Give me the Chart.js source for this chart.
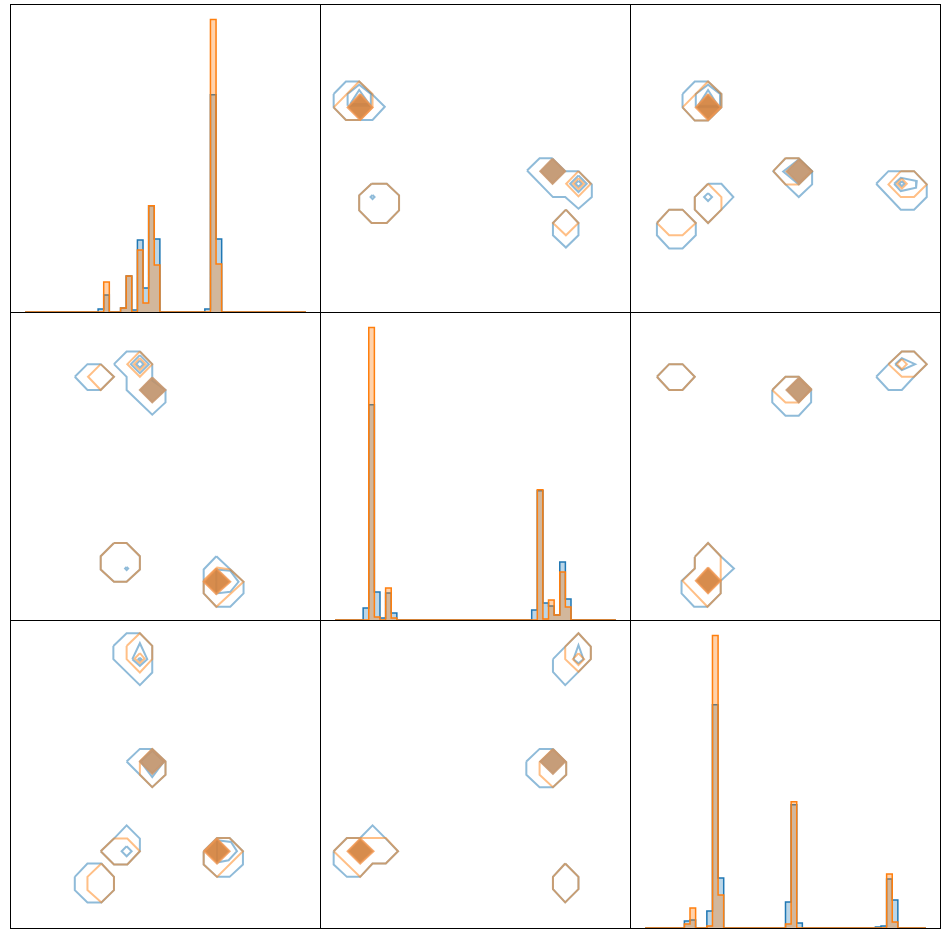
<!DOCTYPE html>
<html>
<head>
<meta charset="utf-8">
<script src="https://cdn.jsdelivr.net/npm/chart.js@4.4.0/dist/chart.umd.min.js"></script>
<style>
  body { margin: 0; background: #fff; }
  #grid { position: relative; width: 944px; height: 938px; }
  .cell { position: absolute; width: 311px; height: 309px; border: 1px solid #000; box-sizing: border-box; }
  .cell canvas { display: block; }
</style>
</head>
<body>
<div id="grid"></div>
<script>
// histogram bins: 50 equal bins over each variable's data range (axis units 0..31)
const binLo = 1.41, binW = 0.5636;

// diagonal histograms (density-ish counts per bin)
const h00Blue   = [0,0,0,0,0,0,0,0,0,0, 0,0,0,3,17,0,0,4,36,2, 72,24,106,73,0,0,0,0,0,0, 0,0,3,217,73,0,0,0,0,0, 0,0,0,0,0,0,0,0,0,0];
const h00Orange = [0,0,0,0,0,0,0,0,0,0, 0,0,0,0,30,0,0,4,36,0, 62,9,106,47,0,0,0,0,0,0, 0,0,0,292,48,0,0,0,0,0, 0,0,0,0,0,0,0,0,0,0];
const h11Blue   = [0,0,0,0,0,12,215,28,2,27, 7,0,0,0,0,0,0,0,0,0, 0,0,0,0,0,0,0,0,0,0, 0,0,0,0,0,10,129,17,14,5, 58,21,0,0,0,0,0,0,0,0];
const h11Orange = [0,0,0,0,0,0,292,3,0,32, 2,0,0,0,0,0,0,0,0,0, 0,0,0,0,0,0,0,0,0,0, 0,0,0,0,0,0,130,1,20,5, 48,13,0,0,0,0,0,0,0,0];
const h22Blue   = [0,0,0,0,0,0,0,7,8,0, 0,17,223,50,0,0,0,0,0,0, 0,0,0,0,0,26,123,5,0,0, 0,0,0,0,0,0,0,0,0,0, 0,1,2,49,28,0,0,0,0,0];
const h22Orange = [0,0,0,0,0,0,0,4,20,0, 0,2,292,33,0,0,0,0,0,0, 0,0,0,0,0,4,126,0,0,0, 0,0,0,0,0,0,0,0,0,0, 0,0,0,54,6,0,0,0,0,0];

// KDE contour polygons, [x, y] in axis units
const p01Blue = [
  [[1.27,21.87],[2.5,23.13],[3.83,23.13],[6.4,20.6],[5.17,19.27],[2.5,19.27],[1.27,20.53]],
  [[2.67,20.7],[2.67,21.87],[3.83,22.8],[5,21.87],[5,20.7]],
  [[2.93,20.87],[3.83,22.27],[4.83,20.87]],
  [[5.17,11.73],[5.37,11.53],[5.17,11.33],[4.97,11.53]],
  [[5.07,12.87],[6.6,12.87],[7.83,11.7],[7.83,10.2],[6.6,8.93],[5.07,8.93],[3.83,10.2],[3.83,11.7]],
  [[20.67,14.2],[21.93,15.43],[23.17,15.43],[24.5,14.13],[25.83,14.13],[27.17,12.8],[27.17,11.53],[25.83,10.37],[24.5,11.53],[23.27,11.53]],
  [[25.83,13.7],[26.66,12.87],[25.83,12.04],[25,12.87]],
  [[25.83,13.17],[26.13,12.87],[25.83,12.57],[25.53,12.87]],
  [[24.57,10.27],[25.83,8.93],[25.83,7.7],[24.57,6.47],[23.27,7.7],[23.27,8.93]]
];
const p01Orange = [
  [[1.27,20.53],[3.83,23.13],[5.17,21.87],[5.17,20.53],[3.93,19.27],[2.5,19.27]],
  [[5.07,12.87],[6.6,12.87],[7.83,11.7],[7.83,10.2],[6.6,8.93],[5.07,8.93],[3.83,10.2],[3.83,11.7]],
  [[25.83,14.13],[27.07,12.87],[25.83,11.6],[24.6,12.87]],
  [[25.83,13.42],[26.38,12.87],[25.83,12.32],[25.28,12.87]],
  [[24.57,10.27],[25.83,8.93],[24.57,7.7],[23.27,8.93]]
];
const p01CoreO = [[[3.93,21.87],[5.17,20.53],[3.93,19.27],[2.67,20.53]]];
const p01CoreT = [[[23.23,15.37],[24.5,14.13],[23.23,12.87],[22,14.13]]];

const p02Blue = [
  [[5.17,21.87],[6.4,23.13],[7.73,23.13],[9.07,21.87],[9.07,20.53],[7.73,19.2],[6.4,19.2],[5.17,20.53]],
  [[6.5,20.53],[6.5,21.87],[7.73,22.8],[8.93,21.87],[8.93,20.53]],
  [[6.73,20.7],[7.73,22.27],[8.73,20.7]],
  [[2.6,8.93],[3.83,10.27],[5.17,10.27],[6.5,8.93],[6.5,7.7],[5.17,6.37],[3.83,6.37],[2.6,7.7]],
  [[7.73,12.87],[9.07,12.87],[10.27,11.53],[9.07,10.27],[7.73,8.93],[6.4,10.27],[6.4,11.53]],
  [[7.73,11.93],[8.13,11.53],[7.73,11.13],[7.33,11.53]],
  [[15.5,15.43],[16.83,15.43],[18.17,14.13],[18.17,12.8],[16.83,11.53],[15.5,12.8],[14.27,14.13]],
  [[16.83,15.3],[18.17,14.1],[16.83,12.8],[15.27,14.1]],
  [[24.6,12.87],[25.83,14.13],[28.4,14.13],[29.67,12.8],[29.67,11.53],[28.4,10.27],[27.07,10.27]],
  [[26.4,12.87],[27.07,13.47],[28.67,13.13],[28.6,12.47],[27.07,12.13]],
  [[27.17,13.12],[27.42,12.87],[27.17,12.62],[26.92,12.87]]
];
const p02Orange = [
  [[5.17,20.53],[7.73,23.13],[9.07,21.87],[9.07,20.53],[7.73,19.2],[6.4,19.2]],
  [[2.6,8.93],[3.83,10.27],[5.17,10.27],[6.5,8.93],[5.17,7.7],[3.83,7.7]],
  [[7.73,12.87],[9.07,11.53],[9.07,10.27],[7.73,8.93],[6.4,10.27],[6.4,11.53]],
  [[14.27,14.13],[15.5,15.43],[16.83,15.43],[18.17,14.13],[16.83,12.8],[15.5,12.8]],
  [[27.07,14.13],[28.4,14.13],[29.67,12.8],[28.4,11.53],[27.07,11.53],[25.83,12.8]],
  [[27.17,13.37],[27.67,12.87],[27.17,12.37],[26.67,12.87]]
];
const p02CoreO = [[[7.73,21.87],[9,20.53],[7.73,19.27],[6.5,20.53]]];
const p02CoreT = [[[16.83,15.27],[18.07,14.1],[16.83,12.93],[15.6,14.1]]];

const p10Blue = [
  [[6.4,24.4],[7.67,25.67],[9,25.67],[10.33,24.4],[9,23.07],[7.67,23.07]],
  [[10.33,25.67],[11.6,26.93],[12.93,26.93],[14.17,25.67],[14.17,24],[15.5,23.07],[15.5,21.83],[14.17,20.6],[11.6,23.07],[11.6,24.4]],
  [[12.93,26.57],[13.83,25.67],[12.93,24.77],[12.03,25.67]],
  [[12.93,26.02],[13.28,25.67],[12.93,25.32],[12.58,25.67]],
  [[10.33,7.73],[11.6,7.73],[12.93,6.4],[12.93,5.07],[11.6,3.83],[10.33,3.83],[9,5.07],[9,6.4]],
  [[11.6,5.32],[11.75,5.17],[11.6,5.02],[11.45,5.17]],
  [[20.6,6.4],[23.33,3.83],[23.33,2.67],[22,1.33],[20.6,1.33],[19.33,2.67],[19.33,5.07]],
  [[20.6,5.07],[22,4.93],[22.83,3.83],[22,2.83],[20.6,2.67]]
];
const p10Orange = [
  [[9,25.67],[10.33,24.4],[9,23.07],[7.73,24.4]],
  [[12.93,26.93],[14.17,25.67],[12.93,24.4],[11.67,25.67]],
  [[12.93,26.27],[13.53,25.67],[12.93,25.07],[12.33,25.67]],
  [[10.33,7.73],[11.6,7.73],[12.93,6.4],[12.93,5.07],[11.6,3.83],[10.33,3.83],[9,5.07],[9,6.4]],
  [[19.33,4],[20.67,5.27],[22,5.07],[23.33,3.83],[20.6,1.33],[19.33,2.67]]
];
const p10CoreO = [[[20.6,5.17],[22,3.83],[20.6,2.6],[19.33,3.83]]];
const p10CoreT = [[[14.17,24.33],[15.5,23.07],[14.17,21.83],[12.93,23.07]]];

const p12Blue = [
  [[2.6,24.4],[3.83,25.67],[5.17,25.67],[6.4,24.4],[5.17,23.07],[3.83,23.07]],
  [[14.17,23.07],[15.5,24.4],[16.83,24.4],[18.07,23.17],[18.07,21.83],[16.83,20.5],[15.5,20.5],[14.17,21.83]],
  [[24.6,24.4],[25.83,25.67],[27.17,26.93],[28.4,26.93],[29.67,25.67],[28.4,24.4],[27.17,23.07],[25.83,23.07]],
  [[26.5,25.67],[27.17,26.27],[28.5,25.67],[27.17,25.07]],
  [[6.4,6.33],[7.73,7.73],[9,6.4],[10.33,5.17],[9,3.93],[9,2.67],[7.67,1.33],[6.33,1.33],[5.07,2.67],[5.07,3.93],[6.4,5.17]]
];
const p12Orange = [
  [[2.6,24.4],[3.83,25.67],[5.17,25.67],[6.4,24.4],[5.17,23.07],[3.83,23.07]],
  [[14.17,23.07],[15.5,24.4],[16.83,24.4],[18.07,23.17],[16.83,21.83],[15.5,21.83]],
  [[25.83,25.67],[27.17,26.93],[28.4,26.93],[29.67,25.67],[28.4,24.4],[27.17,24.4]],
  [[27.17,26.17],[27.67,25.67],[27.17,25.17],[26.67,25.67]],
  [[6.4,6.33],[7.73,7.73],[9,6.4],[9,2.67],[7.67,1.33],[5.17,3.93],[6.4,5.17]]
];
const p12CoreO = [[[7.73,5.27],[9,3.93],[7.73,2.67],[6.5,3.93]]];
const p12CoreT = [[[16.83,24.27],[18.07,23.07],[16.83,21.83],[15.6,23.07]]];

const p20Blue = [
  [[10.27,28.3],[11.6,29.57],[12.93,29.57],[14.17,28.3],[14.17,25.63],[12.93,24.37],[10.27,26.97]],
  [[12.17,26.97],[12.93,28.57],[13.67,26.97],[12.93,26.3]],
  [[12.93,27.12],[13.08,26.97],[12.93,26.82],[12.78,26.97]],
  [[11.6,16.7],[12.93,17.97],[14.17,17.97],[15.5,16.7],[15.5,15.37],[14.17,14.13],[12.93,15.37]],
  [[13,16.7],[14.17,17.8],[15.33,16.7],[14.17,15.13]],
  [[9,7.7],[10.33,8.97],[11.6,10.3],[12.93,8.97],[12.93,7.7],[11.67,6.37],[10.33,6.37]],
  [[11.6,8.2],[12.1,7.7],[11.6,7.2],[11.1,7.7]],
  [[6.4,5.13],[7.67,6.47],[9.07,6.47],[10.33,5.13],[10.33,3.8],[9.07,2.57],[7.67,2.57],[6.4,3.8]],
  [[19.33,7.7],[20.67,9.03],[21.93,9.03],[23.27,7.7],[23.27,6.37],[21.93,5.13],[20.67,5.13],[19.33,6.37]],
  [[20.67,8.8],[22.07,8.63],[22.67,7.7],[21.83,6.8],[20.67,6.57]]
];
const p20Orange = [
  [[11.6,28.3],[12.93,29.57],[14.17,28.3],[14.17,26.97],[12.93,25.63],[11.6,26.97]],
  [[12.93,27.57],[13.4,27.03],[12.93,26.57],[12.4,27.03]],
  [[12.93,16.7],[14.17,17.97],[15.5,16.7],[15.5,15.37],[14.17,14.13],[12.93,15.37]],
  [[9,7.7],[10.33,8.97],[11.67,8.97],[12.93,7.7],[11.67,6.37],[10.33,6.37]],
  [[9.07,6.47],[10.33,5.13],[10.33,3.8],[9.07,2.57],[7.67,3.8],[7.67,5.13]],
  [[19.33,7.7],[20.67,9.03],[21.93,9.03],[23.27,7.7],[20.67,5.13],[19.33,6.37]]
];
const p20CoreO = [[[20.67,8.97],[21.93,7.7],[20.67,6.47],[19.4,7.7]]];
const p20CoreT = [[[14.17,17.9],[15.4,16.7],[14.17,15.47],[12.93,16.7]]];

const p21Blue = [
  [[23.27,26.97],[24.5,28.23],[25.83,29.57],[27.07,28.23],[27.07,26.97],[25.83,25.7],[24.5,24.37],[23.27,25.7]],
  [[25.33,26.97],[25.83,28.37],[26.33,26.97],[25.83,26.57]],
  [[20.6,16.7],[21.93,17.97],[23.27,17.97],[24.6,16.63],[24.6,15.37],[23.27,14.13],[21.93,14.13],[20.6,15.37]],
  [[1.27,7.7],[2.6,9.03],[3.93,9.03],[5.17,10.3],[6.5,8.97],[7.73,7.7],[6.5,6.47],[5.17,6.47],[3.93,5.13],[2.6,5.13],[1.27,6.37]],
  [[24.5,6.47],[25.83,5.13],[25.83,3.9],[24.5,2.57],[23.27,3.9],[23.27,5.13]]
];
const p21Orange = [
  [[24.5,28.23],[25.83,29.57],[27.07,28.23],[27.07,26.97],[25.83,25.7],[24.5,26.97]],
  [[25.83,27.57],[26.4,26.97],[25.83,26.37],[25.27,26.97]],
  [[23.27,17.97],[24.6,16.63],[24.6,15.37],[23.27,14.13],[21.93,15.37],[21.93,16.63]],
  [[1.27,7.7],[2.6,9.03],[3.93,9.03],[6.5,9.03],[7.73,7.7],[6.5,6.47],[5.17,6.47],[3.93,5.13]],
  [[24.5,6.47],[25.83,5.13],[25.83,3.9],[24.5,2.57],[23.27,3.9],[23.27,5.13]]
];
const p21CoreO = [[[3.93,8.97],[5.27,7.7],[3.93,6.47],[2.67,7.7]]];
const p21CoreT = [[[23.27,17.9],[24.5,16.7],[23.27,15.47],[22,16.7]]];

const BLUE = '#1f77b4', ORANGE = '#ff7f0e';
const BLUE_LINE = 'rgba(31,119,180,0.5)', ORANGE_LINE = 'rgba(255,127,14,0.5)';

const panels = [
  [{ hist: [h00Blue, h00Orange] },
   { blue: p01Blue, orange: p01Orange, coreO: p01CoreO, coreT: p01CoreT },
   { blue: p02Blue, orange: p02Orange, coreO: p02CoreO, coreT: p02CoreT }],
  [{ blue: p10Blue, orange: p10Orange, coreO: p10CoreO, coreT: p10CoreT },
   { hist: [h11Blue, h11Orange] },
   { blue: p12Blue, orange: p12Orange, coreO: p12CoreO, coreT: p12CoreT }],
  [{ blue: p20Blue, orange: p20Orange, coreO: p20CoreO, coreT: p20CoreT },
   { blue: p21Blue, orange: p21Orange, coreO: p21CoreO, coreT: p21CoreT },
   { hist: [h22Blue, h22Orange] }]
];

// bin left edges + closing right edge; each count holds across its own bin
function stepPoints(counts) {
  const pts = counts.map((v, k) => ({ x: binLo + k * binW, y: v }));
  pts.push({ x: binLo + counts.length * binW, y: counts[counts.length - 1] });
  return pts;
}

function polyData(pts) {
  return pts.concat([pts[0]]).map(([x, y]) => ({ x, y }));
}

function polySet(pts, line, fill, order) {
  return {
    data: polyData(pts),
    showLine: true,
    borderColor: line,
    borderWidth: 2,
    backgroundColor: fill || 'transparent',
    fill: fill ? 'shape' : false,
    pointRadius: 0,
    tension: 0,
    order: order
  };
}

function histSets(blue, orange) {
  // chart.js 'before' = hold previous value until the next point
  const common = { showLine: true, stepped: 'before', fill: 'origin', pointRadius: 0, borderWidth: 1.5, tension: 0 };
  return [
    Object.assign({}, common, { data: stepPoints(orange), borderColor: ORANGE, backgroundColor: 'rgba(255,127,14,0.35)', order: 0 }),
    Object.assign({}, common, { data: stepPoints(blue), borderColor: BLUE, backgroundColor: 'rgba(31,119,180,0.3)', order: 1 })
  ];
}

const grid = document.getElementById('grid');
panels.forEach((row, r) => {
  row.forEach((p, c) => {
    const cell = document.createElement('div');
    cell.className = 'cell';
    cell.style.left = (10 + c * 310) + 'px';
    cell.style.top = (4 + r * 308) + 'px';
    const canvas = document.createElement('canvas');
    canvas.width = 309;
    canvas.height = 307;
    cell.appendChild(canvas);
    grid.appendChild(cell);

    let datasets, yMax;
    if (p.hist) {
      datasets = histSets(p.hist[0], p.hist[1]);
      yMax = 1.05 * Math.max(...p.hist[0], ...p.hist[1]);
    } else {
      datasets = [];
      p.blue.forEach(pts => datasets.push(polySet(pts, BLUE_LINE, null, 3)));
      p.orange.forEach(pts => datasets.push(polySet(pts, ORANGE_LINE, null, 2)));
      p.coreT.forEach(pts => datasets.push(polySet(pts, 'rgba(200,152,112,0.9)', 'rgba(192,146,106,0.9)', 1)));
      p.coreO.forEach(pts => datasets.push(polySet(pts, 'rgba(240,150,80,0.8)', 'rgba(212,130,62,0.92)', 1)));
      yMax = 30.8;
    }

    new Chart(canvas, {
      type: 'scatter',
      data: { datasets },
      options: {
        responsive: false,
        animation: false,
        layout: { padding: 0 },
        plugins: { legend: { display: false }, tooltip: { enabled: false } },
        scales: {
          x: { type: 'linear', min: 0, max: 31, display: false },
          y: { type: 'linear', min: 0, max: yMax, display: false }
        }
      }
    });
  });
});
</script>
</body>
</html>
